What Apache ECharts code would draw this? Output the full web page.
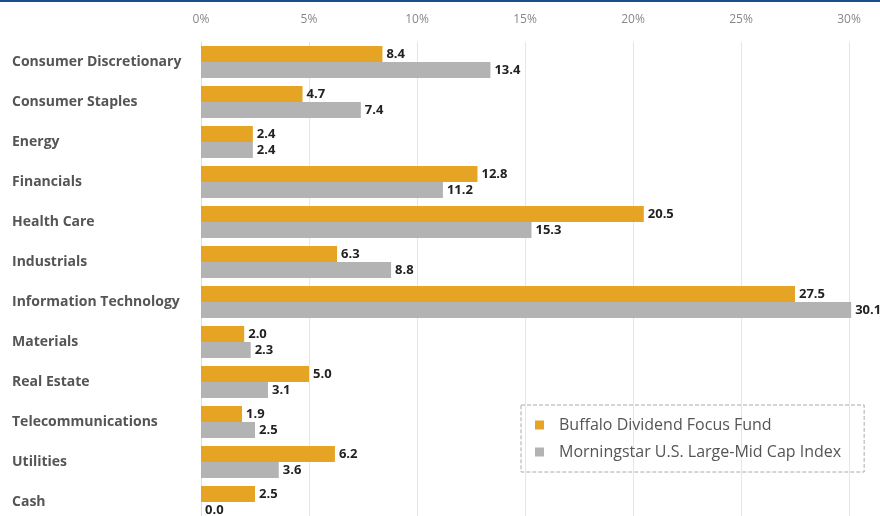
<!DOCTYPE html>
<html>
<head>
<meta charset="utf-8">
<script src="https://cdn.jsdelivr.net/npm/echarts@6/dist/echarts.min.js"></script>
<style>
  html, body { margin: 0; padding: 0; background: #fff; }
  #chart { width: 880px; height: 516px; }
</style>
</head>
<body>
<div id="chart"></div>
<script>
  // 数据
  const categories = ['Consumer Discretionary', 'Consumer Staples', 'Energy', 'Financials', 'Health Care',
    'Industrials', 'Information Technology', 'Materials', 'Real Estate', 'Telecommunications', 'Utilities', 'Cash']
  const fundValues = [8.4, 4.7, 2.4, 12.8, 20.5, 6.3, 27.5, 2.0, 5.0, 1.9, 6.2, 2.5]
  const indexValues = [13.4, 7.4, 2.4, 11.2, 15.3, 8.8, 30.1, 2.3, 3.1, 2.5, 3.6, 0.0]
  const xTicks = [0, 5, 10, 15, 20, 25, 30]

  const chart = echarts.init(document.getElementById('chart'))
  const font = '"Open Sans", "Noto Sans", sans-serif'

  const valueLabel = {
    show: true,
    position: 'right',
    distance: 4,
    color: '#222',
    fontSize: 13,
    fontWeight: 'bold',
    fontFamily: font,
    formatter: (p) => p.value.toFixed(1),
  }

  const option = {
    animation: false,
    textStyle: { fontFamily: font },
    graphic: [
      {
        type: 'rect',
        left: 0,
        top: 0,
        shape: { width: 880, height: 2 },
        style: { fill: '#1d4b8c' },
      },
    ],
    grid: { left: 201, right: 31, top: 42, height: 480, outerBoundsMode: 'none' },
    legend: {
      orient: 'vertical',
      left: 521,
      top: 405,
      padding: [11, 23, 11, 14],
      itemGap: 9,
      itemWidth: 9,
      itemHeight: 9,
      icon: 'rect',
      borderColor: '#aaa',
      borderWidth: 1,
      borderType: 'dashed',
      textStyle: { color: '#555', fontSize: 16, fontFamily: font, lineHeight: 18, padding: [0, 0, 0, 10] },
      data: ['Buffalo Dividend Focus Fund', 'Morningstar U.S. Large-Mid Cap Index'],
    },
    xAxis: {
      type: 'value',
      position: 'top',
      min: xTicks[0],
      max: xTicks[xTicks.length - 1],
      interval: 5,
      axisLine: { show: false },
      axisTick: { show: false },
      axisLabel: { formatter: '{value}%', color: '#888', fontSize: 12, margin: 16, fontFamily: font },
      splitLine: { lineStyle: { color: '#e6e6e6' } },
    },
    yAxis: {
      type: 'category',
      inverse: true,
      data: categories,
      axisLine: { lineStyle: { color: '#dcdcdc' } },
      axisTick: { show: false },
      axisLabel: {
        align: 'left',
        margin: 189,
        color: '#555',
        fontSize: 14,
        fontWeight: 'bold',
        fontFamily: font,
      },
    },
    series: [
      {
        name: 'Buffalo Dividend Focus Fund',
        type: 'bar',
        data: fundValues,
        barWidth: 16,
        barGap: '0%',
        clip: false,
        itemStyle: { color: '#e5a423' },
        label: valueLabel,
      },
      {
        name: 'Morningstar U.S. Large-Mid Cap Index',
        type: 'bar',
        data: indexValues,
        barWidth: 16,
        barGap: '0%',
        clip: false,
        itemStyle: { color: '#b3b3b3' },
        label: valueLabel,
      },
    ],
  }
  chart.setOption(option)
</script>
</body>
</html>
